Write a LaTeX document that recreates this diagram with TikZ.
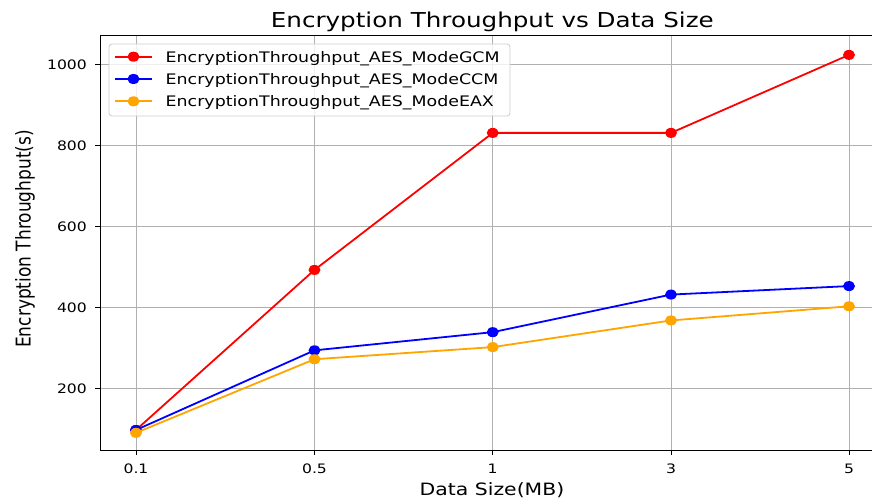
\documentclass[tikz,border=0pt]{standalone}
\usepackage{fontspec}
\newfontfamily\df{DejaVu Sans}[FakeStretch=1.2]
\newfontfamily\dfn{DejaVu Sans}
\definecolor{mplorange}{HTML}{FFA500}
\definecolor{gridgray}{HTML}{B0B0B0}
\definecolor{leggray}{HTML}{CCCCCC}
\tikzset{
  gridline/.style={gridgray, line width=1pt},
  spine/.style={black, line width=1pt},
  series/.style={line width=1.8pt, line join=round},
  mk/.style={fill=#1, draw=none, ellipse, minimum width=12pt, minimum height=10pt, inner sep=0pt},
  ticklab/.style={font=\df\fontsize{13}{15}\selectfont, inner sep=0pt},
  legtext/.style={font=\df\fontsize{14.5}{17}\selectfont, inner sep=0pt, anchor=base west},
}
\usetikzlibrary{shapes.geometric}
\newcommand{\Yv}[1]{65+(1000-#1)*0.40417}
\begin{document}
\begin{tikzpicture}[x=1pt, y=-1pt]
\useasboundingbox (0,0) rectangle (872,502);
\fill[white] (0,0) rectangle (872,502);
% grid
\foreach \xx in {136,314.5,492.7,671,849} {
  \draw[gridline] (\xx,36) -- (\xx,450);
  \draw[spine] (\xx,450) -- (\xx,455);
}
\foreach \vv in {200,400,600,800,1000} {
  \draw[gridline] (100,{\Yv{\vv}}) -- (872,{\Yv{\vv}});
  \draw[spine] (95,{\Yv{\vv}}) -- (100,{\Yv{\vv}});
  \node[ticklab, anchor=east] (yt\vv) at (87,{\Yv{\vv}}) {\vv};
}
% spines
\draw[spine] (872,36) -- (100,36) -- (100,450) -- (872,450);
% x tick labels
\node[ticklab, anchor=base] (xt1) at (136,473) {0.1};
\node[ticklab, anchor=base] (xt2) at (314.5,473) {0.5};
\node[ticklab, anchor=base] (xt3) at (492.7,473) {1};
\node[ticklab, anchor=base] (xt4) at (671,473) {3};
\node[ticklab, anchor=base] (xt5) at (849,473) {5};
% labels and title
\node[font=\df\fontsize{20.5}{24}\selectfont, anchor=base, inner sep=0pt] (title) at (492.3,27.3) {Encryption Throughput vs Data Size};
\node[font=\df\fontsize{17}{20}\selectfont, anchor=base, inner sep=0pt] (xlabel) at (492,495) {Data Size(MB)};
\node[font=\dfn\fontsize{17}{20}\selectfont, anchor=base, inner sep=0pt, rotate=90] (ylabel) at (30.5,239) {\scalebox{1}[1.2]{Encryption Throughput(s)}};
% data
\coordinate (g1) at (136,{\Yv{97}});
\coordinate (g2) at (314.5,{\Yv{493}});
\coordinate (g3) at (492.7,{\Yv{832}});
\coordinate (g4) at (671,{\Yv{832}});
\coordinate (g5) at (849,{\Yv{1025}});
\coordinate (c1) at (136,{\Yv{97}});
\coordinate (c2) at (314.5,{\Yv{294}});
\coordinate (c3) at (492.7,{\Yv{339}});
\coordinate (c4) at (671,{\Yv{432}});
\coordinate (c5) at (849,{\Yv{453}});
\coordinate (e1) at (136,{\Yv{90}});
\coordinate (e2) at (314.5,{\Yv{272}});
\coordinate (e3) at (492.7,{\Yv{302}});
\coordinate (e4) at (671,{\Yv{368}});
\coordinate (e5) at (849,{\Yv{403}});
\draw[series, red] (g1) -- (g2) -- (g3) -- (g4) -- (g5);
\foreach \p in {g1,g2,g3,g4,g5} \node[mk=red] at (\p) {};
\draw[series, blue] (c1) -- (c2) -- (c3) -- (c4) -- (c5);
\foreach \p in {c1,c2,c3,c4,c5} \node[mk=blue] at (\p) {};
\draw[series, mplorange] (e1) -- (e2) -- (e3) -- (e4) -- (e5);
\foreach \p in {e1,e2,e3,e4,e5} \node[mk=mplorange] at (\p) {};
% legend
\draw[leggray, line width=0.8pt, fill=white, fill opacity=0.8, rounded corners=3pt] (109,44) rectangle (510,116);
\coordinate (la1) at (115,56.7); \coordinate (lb1) at (152,56.7);
\coordinate (la2) at (115,79); \coordinate (lb2) at (152,79);
\coordinate (la3) at (115,101.3); \coordinate (lb3) at (152,101.3);
\draw[series, red] (la1) -- (lb1);
\node[mk=red] at (133.5,56.7) {};
\draw[series, blue] (la2) -- (lb2);
\node[mk=blue] at (133.5,79) {};
\draw[series, mplorange] (la3) -- (lb3);
\node[mk=mplorange] at (133.5,101.3) {};
\node[legtext] (l1) at (165.5,62.2) {EncryptionThroughput\_AES\_ModeGCM};
\node[legtext] (l2) at (165.5,84.5) {EncryptionThroughput\_AES\_ModeCCM};
\node[legtext] (l3) at (165.5,106.8) {EncryptionThroughput\_AES\_ModeEAX};
\end{tikzpicture}
\end{document}
